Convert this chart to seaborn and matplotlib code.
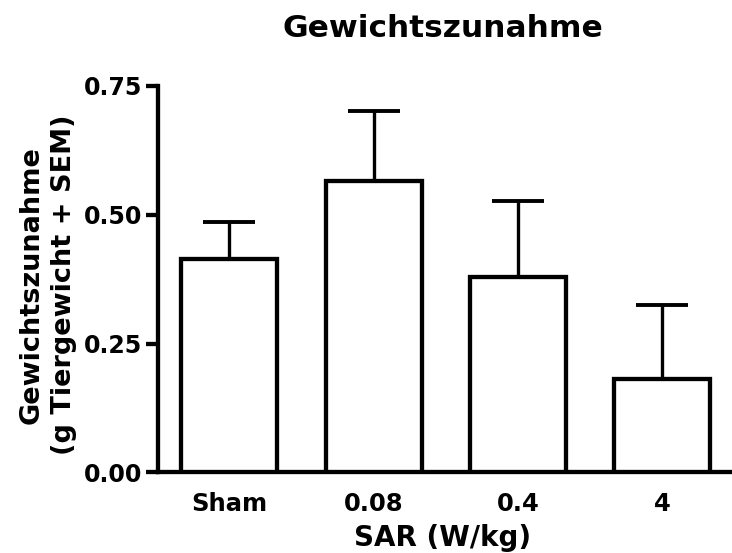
import numpy as np
import pandas as pd
import matplotlib
matplotlib.use("Agg")
import matplotlib.pyplot as plt
import seaborn as sns

# Weight gain per SAR exposure group (mean and SEM)
groups = ["Sham", "0.08", "0.4", "4"]
mean_gain = [0.414, 0.565, 0.380, 0.181]
sem_gain = [0.071, 0.137, 0.147, 0.144]
y_ticks = [0.00, 0.25, 0.50, 0.75]
y_tick_labels = ["0.00", "0.25", "0.50", "0.75"]

sns.set_style("ticks")
plt.rcParams["font.family"] = ["DejaVu Sans"]
plt.rcParams["font.weight"] = "bold"
for key in ("text.color", "axes.labelcolor", "xtick.color", "ytick.color",
            "axes.edgecolor"):
    plt.rcParams[key] = "black"

df = pd.DataFrame({"group": groups, "gain": mean_gain})

fig = plt.figure(figsize=(7.32, 5.53), dpi=100)
ax = fig.add_axes([0.2154, 0.146, 0.7846, 0.6985])

sns.barplot(data=df, x="group", y="gain", order=groups, color="white",
            edgecolor="black", linewidth=3.1, width=0.665, errorbar=None,
            ax=ax, zorder=3)

pos = np.arange(len(groups))
ax.errorbar(pos, mean_gain, yerr=[np.zeros(len(groups)), sem_gain],
            fmt="none", ecolor="black", elinewidth=2.4, capsize=18.5,
            capthick=2.8, zorder=2)

ax.set_ylim(0, 0.75)
ax.set_xlim(-0.4976, 3.482)
ax.set_yticks(y_ticks, y_tick_labels)
ax.set_xticks(pos, groups)

ax.tick_params(axis="y", length=9, width=3.1, pad=2, labelsize=17,
               color="black", labelcolor="black")
ax.tick_params(axis="x", length=0, pad=14, labelsize=17.5, labelcolor="black")
for lab in ax.get_xticklabels() + ax.get_yticklabels():
    lab.set_fontweight("bold")

for side in ("top", "right"):
    ax.spines[side].set_visible(False)
for side in ("left", "bottom"):
    ax.spines[side].set_linewidth(3.1)
    ax.spines[side].set_color("black")

ax.set_xlabel("")
ax.set_ylabel("")

fig.text(442.5 / 732, 1 - 37.3 / 553, "Gewichtszunahme", ha="center",
         va="baseline", fontsize=22.5, fontweight="bold")
fig.text(443 / 732, 1 - 546 / 553, "SAR (W/kg)", ha="center",
         va="baseline", fontsize=20, fontweight="bold")
fig.text(48 / 732, 1 - 285 / 553, "Gewichtszunahme\n(g Tiergewicht + SEM)",
         ha="center", va="center", rotation=90, multialignment="center",
         fontsize=19.5, fontweight="bold", linespacing=1.3)

fig.savefig("out.png", dpi=100, facecolor="white")
